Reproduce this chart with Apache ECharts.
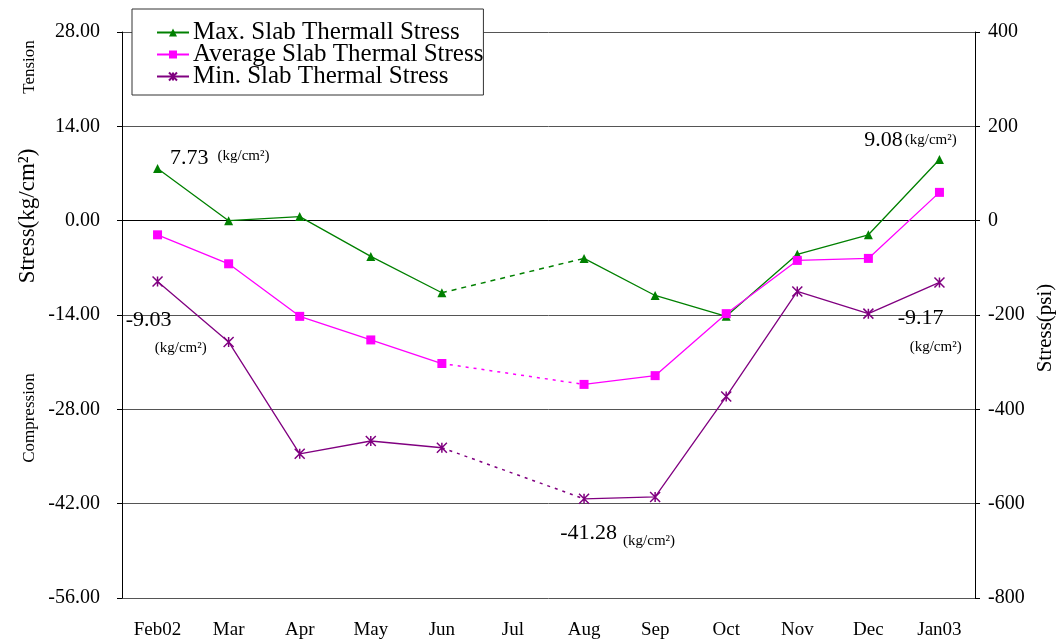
<!DOCTYPE html>
<html style="height: 100%">
<head>
    <meta charset="UTF-8">
    <title>Slab Thermal Stress</title>
    <script type="text/javascript" src="https://cdn.jsdelivr.net/npm/echarts@6/dist/echarts.min.js"></script>
</head>
<body style="height: 100%; margin: 0; background: #fff">
    <div id="container" style="width: 1057px; height: 644px"></div>
<script>
    var months = ['Feb02', 'Mar', 'Apr', 'May', 'Jun', 'Jul', 'Aug', 'Sep', 'Oct', 'Nov', 'Dec', 'Jan03'];
    var maxStress = [7.73, 0.0, 0.6, -5.3, -10.7, null, -5.6, -11.1, -14.2, -5.0, -2.1, 9.08];
    var avgStress = [-2.1, -6.4, -14.2, -17.7, -21.2, null, -24.3, -23.0, -13.8, -5.9, -5.6, 4.2];
    var minStress = [-9.03, -18.0, -34.6, -32.7, -33.7, null, -41.28, -41.0, -26.1, -10.5, -13.8, -9.17];
    var seriesNames = ['Max. Slab Thermall Stress', 'Average Slab Thermal Stress', 'Min. Slab Thermal Stress'];

    var font = '"Liberation Serif", "DejaVu Serif", serif';
    var unit = '(kg/cm\u00b2)';
    var numStyle = {fontFamily: font, fontSize: 22, color: '#000'};
    function unitStyle(pad) {
        return {fontFamily: font, fontSize: 15, color: '#000', padding: pad};
    }

    // labels on the extreme points, tied to the data
    function lbl(v, position, unitPad, sep) {
        return {
            show: true,
            position: position,
            formatter: '{v|' + v.toFixed(2) + '}' + sep + '{u|' + unit + '}',
            rich: {v: numStyle, u: unitStyle(unitPad)}
        };
    }

    var maxData = maxStress.map(function (v, i) {
        if (i === 0) return {value: v, label: Object.assign(lbl(v, 'right', [0, 0, 6, 0], '   '), {offset: [3, -10]})};
        if (i === 11) return {value: v, label: Object.assign(lbl(v, 'top', [0, 0, 0, 2], ''), {offset: [-29, 1]})};
        return v;
    });
    var minData = minStress.map(function (v, i) {
        if (i === 0) return {value: v, label: lbl(v, [-26, 33], [10, 0, 0, 29], '\n')};
        if (i === 11) return {value: v, label: lbl(v, [-36, 31], [10, 0, 0, 12], '\n')};
        if (i === 6) return {value: v, label: lbl(v, [-18, 25], [15, 0, 0, 0], '  ')};
        return v;
    });

    // the Jun -> Aug stretch has no Jul reading, drawn dashed
    function gapPart(arr) {
        return arr.map(function (v, i) { return (i >= 4 && i <= 6) ? v : null; });
    }

    var colors = ['#008000', '#ff00ff', '#800080'];
    var starPath = 'path://M0,0L10,10M10,0L0,10M5,0L5,10';

    var dom = document.getElementById('container');
    var myChart = echarts.init(dom);
    var option = {
        animation: false,
        backgroundColor: '#fff',
        textStyle: {fontFamily: font},
        grid: {left: 122, right: 82, top: 32, bottom: 46},
        legend: {
            data: seriesNames,
            orient: 'vertical',
            left: 132,
            top: 9,
            backgroundColor: '#fff',
            borderColor: '#333',
            borderWidth: 1,
            padding: [11, 0, 6, 24],
            itemGap: -3,
            itemWidth: 32,
            itemHeight: 10,
            textStyle: {fontFamily: font, fontSize: 25, color: '#000', lineHeight: 22, padding: [0, 0, 0, -1]}
        },
        xAxis: {
            type: 'category',
            data: months,
            boundaryGap: true,
            axisLine: {lineStyle: {color: '#000', width: 1}},
            axisTick: {inside: true, length: 5, lineStyle: {color: '#000'}},
            axisLabel: {fontFamily: font, fontSize: 19, color: '#000', margin: 23}
        },
        yAxis: [{
            type: 'value',
            min: -56,
            max: 28,
            interval: 14,
            axisLine: {show: true, lineStyle: {color: '#000'}},
            axisTick: {show: true, length: 5, lineStyle: {color: '#000'}},
            axisLabel: {fontFamily: font, fontSize: 20, color: '#000', margin: 22,
                formatter: function (v) { return v.toFixed(2); }},
            splitLine: {show: true, lineStyle: {color: '#555', width: 1}}
        }, {
            type: 'value',
            min: -800,
            max: 400,
            interval: 200,
            position: 'right',
            axisLine: {show: true, lineStyle: {color: '#000'}},
            axisTick: {show: true, length: 5, lineStyle: {color: '#000'}},
            axisLabel: {fontFamily: font, fontSize: 20, color: '#000', margin: 13},
            splitLine: {show: false}
        }],
        graphic: [
            {type: 'text', x: 30, y: 67, rotation: Math.PI / 2,
                style: {text: 'Tension', font: '17px ' + font, fill: '#000', textAlign: 'center', textVerticalAlign: 'middle'}},
            {type: 'text', x: 30, y: 418, rotation: Math.PI / 2,
                style: {text: 'Compression', font: '17px ' + font, fill: '#000', textAlign: 'center', textVerticalAlign: 'middle'}},
            {type: 'text', x: 28, y: 216, rotation: Math.PI / 2,
                style: {text: 'Stress(kg/cm\u00b2)', font: '23px ' + font, fill: '#000', textAlign: 'center', textVerticalAlign: 'middle'}},
            {type: 'text', x: 1045, y: 328, rotation: Math.PI / 2,
                style: {text: 'Stress(psi)', font: '21px ' + font, fill: '#000', textAlign: 'center', textVerticalAlign: 'middle'}}
        ],
        series: [{
            name: seriesNames[0],
            type: 'line',
            data: maxData,
            symbol: 'triangle',
            symbolSize: 9,
            connectNulls: false,
            itemStyle: {color: colors[0]},
            lineStyle: {color: colors[0], width: 1.3}
        }, {
            name: seriesNames[1],
            type: 'line',
            data: avgStress,
            symbol: 'rect',
            symbolSize: 9,
            connectNulls: false,
            itemStyle: {color: colors[1]},
            lineStyle: {color: colors[1], width: 1.3}
        }, {
            name: seriesNames[2],
            type: 'line',
            data: minData,
            symbol: starPath,
            symbolSize: 10,
            connectNulls: false,
            itemStyle: {color: colors[2], borderColor: colors[2], borderWidth: 1.5},
            lineStyle: {color: colors[2], width: 1.3}
        }, {
            name: 'max gap',
            type: 'line',
            data: gapPart(maxStress),
            connectNulls: true,
            symbol: 'none',
            lineStyle: {color: colors[0], width: 1.5, type: [5, 5]}
        }, {
            name: 'avg gap',
            type: 'line',
            data: gapPart(avgStress),
            connectNulls: true,
            symbol: 'none',
            lineStyle: {color: colors[1], width: 1.5, type: [3, 5]}
        }, {
            name: 'min gap',
            type: 'line',
            data: gapPart(minStress),
            connectNulls: true,
            symbol: 'none',
            lineStyle: {color: colors[2], width: 1.5, type: [3, 5]}
        }]
    };
    if (option && typeof option === 'object') {
        myChart.setOption(option, true);
    }
</script>
</body>
</html>
